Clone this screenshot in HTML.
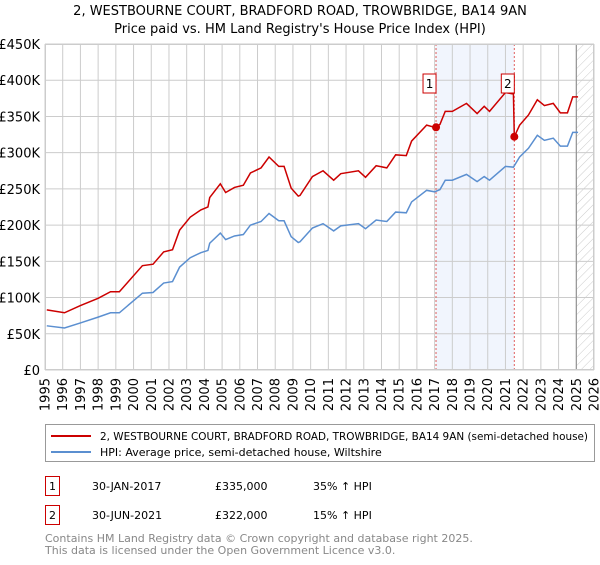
<!DOCTYPE html>
<html><head><meta charset="utf-8"><style>
body{margin:0;background:#fff;font-family:"Liberation Sans","DejaVu Sans",sans-serif;}
svg text{font-family:"DejaVu Sans","Liberation Sans",sans-serif;}
</style></head><body>
<svg id="chart" width="600" height="560" viewBox="0 0 600 560" xmlns="http://www.w3.org/2000/svg">
<defs><pattern id="hatch" patternUnits="userSpaceOnUse" width="6" height="6" patternTransform="rotate(45)"><line x1="0" y1="0" x2="0" y2="6" stroke="#ccc" stroke-width="1"/></pattern></defs>
<text x="300" y="15" text-anchor="middle" font-size="13">2, WESTBOURNE COURT, BRADFORD ROAD, TROWBRIDGE, BA14 9AN</text>
<text x="300" y="33" text-anchor="middle" font-size="13">Price paid vs. HM Land Registry's House Price Index (HPI)</text>
<g id="plot"></g>
<g>
<rect x="45.5" y="424.5" width="549" height="37" fill="#fff" stroke="#999"/>
<line x1="51" y1="436" x2="91" y2="436" stroke="#cc0000" stroke-width="2"/>
<text x="100" y="440" font-size="11" textLength="488" lengthAdjust="spacingAndGlyphs">2, WESTBOURNE COURT, BRADFORD ROAD, TROWBRIDGE, BA14 9AN (semi-detached house)</text>
<line x1="51" y1="452" x2="91" y2="452" stroke="#5b8fd0" stroke-width="2"/>
<text x="100" y="456" font-size="11">HPI: Average price, semi-detached house, Wiltshire</text>
</g>
<g font-size="11">
<rect x="45.5" y="476.5" width="14" height="19" fill="#fff" stroke="#cc0000"/>
<text x="52.5" y="490" text-anchor="middle">1</text>
<text x="92" y="490">30-JAN-2017</text><text x="215" y="490">£335,000</text><text x="313" y="490">35% ↑ HPI</text>
<rect x="45.5" y="505.5" width="14" height="19" fill="#fff" stroke="#cc0000"/>
<text x="52.5" y="519" text-anchor="middle">2</text>
<text x="92" y="519">30-JUN-2021</text><text x="215" y="519">£322,000</text><text x="313" y="519">15% ↑ HPI</text>
</g>
<text x="45" y="542" font-size="11" fill="#888">Contains HM Land Registry data © Crown copyright and database right 2025.</text>
<text x="45" y="554" font-size="11" fill="#888">This data is licensed under the Open Government Licence v3.0.</text>
</svg>
<script>
const hpiYears=[1995.1,1996.1,1997,1998,1998.7,1999.2,2000.5,2001.1,2001.7,2002.2,2002.6,2003.2,2003.8,2004.2,2004.3,2004.9,2005.2,2005.7,2006.2,2006.6,2007.2,2007.65,2008.2,2008.5,2008.9,2009.3,2009.4,2010.1,2010.7,2011.3,2011.7,2012.7,2013.1,2013.7,2014.3,2014.8,2015.4,2015.7,2016.55,2017.0,2017.3,2017.6,2018.0,2018.8,2019.4,2019.8,2020.1,2021.0,2021.45,2021.8,2022.3,2022.8,2023.2,2023.7,2024.1,2024.5,2024.8,2025.1];
const hpiValues=[61,58,65,73,79,79,106,107,120,122,142,155,162,165,175,189,180,185,187,200,205,216,206,206,184,176,177,196,202,192,199,202,195,207,205,218,217,232,248,246,249,262,262,270,260,267,262,281,280,294,306,324,317,320,309,309,328,328];
const priceYears=[1995.1,1996.1,1997,1998,1998.7,1999.2,2000.5,2001.1,2001.7,2002.2,2002.6,2003.2,2003.8,2004.2,2004.3,2004.9,2005.2,2005.7,2006.2,2006.6,2007.2,2007.65,2008.2,2008.5,2008.9,2009.3,2009.4,2010.1,2010.7,2011.3,2011.7,2012.7,2013.1,2013.7,2014.3,2014.8,2015.4,2015.7,2016.55,2017.0,2017.3,2017.6,2018.0,2018.8,2019.4,2019.8,2020.1,2021.0,2021.45,2021.5,2021.8,2022.3,2022.8,2023.2,2023.7,2024.1,2024.5,2024.8,2025.1];
const priceValues=[83,79,89,99,108,108,144,146,163,166,193,211,221,225,238,257,245,252,255,272,279,294,281,281,251,240,241,267,275,262,271,275,266,282,279,297,296,316,338,335,339,357,357,368,354,364,357,383,381,322,338,352,373,365,368,355,355,377,377];
const saleYears=[2017.08,2021.5];
const saleValues=[335,322];
const saleLabels=["1","2"];
const yTicks=[0,50,100,150,200,250,300,350,400,450];
const yTickLabels=["£0","£50K","£100K","£150K","£200K","£250K","£300K","£350K","£400K","£450K"];
const xTicks=[1995,1996,1997,1998,1999,2000,2001,2002,2003,2004,2005,2006,2007,2008,2009,2010,2011,2012,2013,2014,2015,2016,2017,2018,2019,2020,2021,2022,2023,2024,2025,2026];
const forecastStart=2025.0;

const X0=45,X1=594,Y0=370,Y1=44;
const xs=y=>X0+(y-1995)/(2026-1995)*(X1-X0);
const ys=v=>Y0-v/450*(Y0-Y1);
const NS="http://www.w3.org/2000/svg";
const g=document.getElementById('plot');
function mk(t,a){const e=document.createElementNS(NS,t);for(const k in a)e.setAttribute(k,a[k]);g.appendChild(e);return e;}
let e;
e=mk('rect',{x:xs(saleYears[0]),y:Y1,width:xs(saleYears[1])-xs(saleYears[0]),height:Y0-Y1,fill:'#eef3fc',opacity:0.8});


e=mk('rect',{x:xs(forecastStart),y:Y1,width:X1-xs(forecastStart),height:Y0-Y1,fill:'url(#hatch)'});


xTicks.forEach((t,i)=>{
 e=mk('line',{x1:xs(t),y1:Y1,x2:xs(t),y2:Y0,stroke:'#ccc','stroke-width':1});
 
 
 const tx=xs(t)+4.5, ty=378;
 e=mk('text',{x:tx,y:ty,'font-size':13,'text-anchor':'end',transform:`rotate(-90 ${tx} ${ty})`});
 e.textContent=t;
 
 
});
yTicks.forEach((t,i)=>{
 e=mk('line',{x1:X0,y1:ys(t),x2:X1,y2:ys(t),stroke:'#ccc','stroke-width':1});
 
 
 e=mk('text',{x:40,y:ys(t)+5,'font-size':13,'text-anchor':'end'});
 e.textContent=yTickLabels[i];
 
 
});
e=mk('line',{x1:xs(forecastStart),y1:Y1,x2:xs(forecastStart),y2:Y0,stroke:'#888','stroke-width':1});


saleYears.forEach((s,i)=>{
 e=mk('line',{x1:xs(s),y1:Y1,x2:xs(s),y2:Y0,stroke:'#e06060','stroke-width':1,'stroke-dasharray':'2,2'});
 
 
});
e=mk('polyline',{points:hpiYears.map((y,i)=>xs(y)+','+ys(hpiValues[i])).join(' '),fill:'none',stroke:'#5b8fd0','stroke-width':1.5});


e=mk('polyline',{points:priceYears.map((y,i)=>xs(y)+','+ys(priceValues[i])).join(' '),fill:'none',stroke:'#cc0000','stroke-width':1.5});


saleYears.forEach((s,i)=>{
 e=mk('circle',{cx:xs(s),cy:ys(saleValues[i]),r:4,fill:'#cc0000'});
 
 
 const bx=xs(s)-13;
 e=mk('rect',{x:bx,y:74,width:13,height:19,fill:'#fff',stroke:'#cc0000'});
 
 
 e=mk('text',{x:bx+6.5,y:88,'font-size':12,'text-anchor':'middle'});
 e.textContent=saleLabels[i];
 
 
});
e=mk('rect',{x:X0+0.5,y:Y1+0.5,width:X1-X0-1,height:Y0-Y1-1,fill:'none',stroke:'#ccc'});


</script>
</body></html>
